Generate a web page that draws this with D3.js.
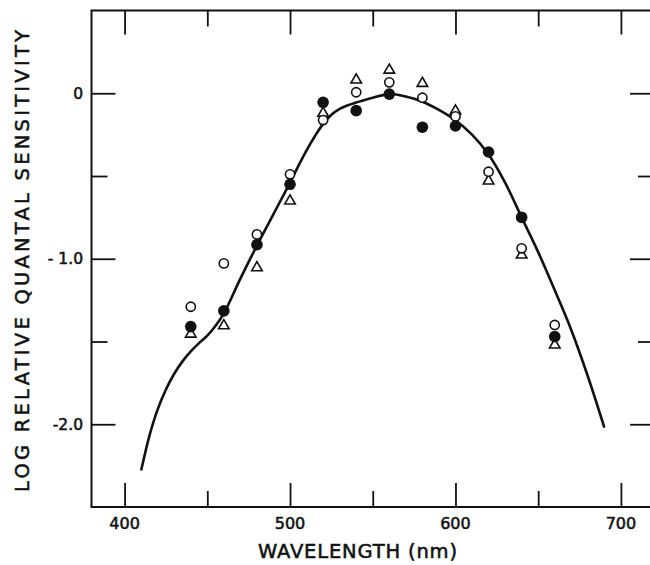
<!DOCTYPE html>
<html>
<head>
<meta charset="utf-8">
<script src="https://cdn.jsdelivr.net/npm/d3@7"></script>
<style>
  html, body { margin: 0; padding: 0; background: #fff; }
  svg { display: block; }
  text { font-family: "DejaVu Sans", sans-serif; fill: #111; stroke: #111; stroke-width: 0.55px; }
</style>
</head>
<body>
<svg id="chart" width="650" height="565"></svg>
<script>
// ---- data ----
const wavelengths = [440, 460, 480, 500, 520, 540, 560, 580, 600, 620, 640, 660];
const filledCircles = [-1.41, -1.315, -0.915, -0.55, -0.055, -0.105, -0.005, -0.205, -0.198, -0.355, -0.75, -1.47];
const openCircles = [-1.29, -1.028, -0.853, -0.49, -0.162, 0.006, 0.066, -0.027, -0.14, -0.474, -0.937, -1.40];
const openTriangles = [-1.455, -1.405, -1.054, -0.651, -0.121, 0.08, 0.14, 0.06, -0.107, -0.53, -0.977, -1.521];

const curveWavelengths = [410, 415, 420, 425, 430, 435, 440, 445, 450, 455, 460, 470, 480, 490, 500, 505, 510, 515, 520, 525, 530, 535, 540, 550, 560, 570, 580, 590, 600, 610, 620, 630, 640, 650, 660, 670, 680, 690];
const curveValues = [-2.28, -2.07, -1.91, -1.79, -1.695, -1.62, -1.56, -1.51, -1.465, -1.405, -1.33, -1.12, -0.92, -0.73, -0.54, -0.44, -0.345, -0.26, -0.185, -0.13, -0.094, -0.072, -0.056, -0.027, -0.005, -0.02, -0.051, -0.10, -0.163, -0.25, -0.37, -0.54, -0.75, -0.96, -1.19, -1.43, -1.71, -2.02];

const xMajorTicks = [400, 500, 600, 700];
const xMinorTicks = [450, 550, 650];
const xTickLabels = ["400", "500", "600", "700"];
const yMajorTicks = [0, -1, -2];
const yMinorTicks = [-0.5, -1.5];
const yTickLabels = ["0", "- 1.0", "-2.0"];
const xTitle = "WAVELENGTH (nm)";
const yTitle = "LOG RELATIVE QUANTAL SENSITIVITY";

// ---- layout ----
const svg = d3.select("#chart");
const x = d3.scaleLinear().domain([380, 720]).range([91.5, 654]);
const y = d3.scaleLinear().domain([-2.5, 0.5]).range([507, 10.5]);
const X0 = x(380), X1 = x(720), Y0 = y(-2.5), Y1 = y(0.5);
const major = 24, minor = 16;
const ink = "#111";

// frame
svg.append("rect")
  .attr("x", X0).attr("y", Y1)
  .attr("width", X1 - X0).attr("height", Y0 - Y1)
  .attr("fill", "none").attr("stroke", ink).attr("stroke-width", 2);

// axes with inward ticks
function tickAxis(gen, tx, ty, values, size) {
  const g = svg.append("g").attr("transform", `translate(${tx},${ty})`)
    .call(gen.tickValues(values).tickSize(size).tickFormat(""));
  g.select(".domain").remove();
  g.selectAll(".tick line").attr("stroke", ink).attr("stroke-width", 1.8);
  return g;
}
// bottom (ticks point up)
tickAxis(d3.axisTop(x), 0, Y0, xMajorTicks, major);
tickAxis(d3.axisTop(x), 0, Y0, xMinorTicks, minor);
// top (ticks point down)
tickAxis(d3.axisBottom(x), 0, Y1, xMajorTicks, major);
tickAxis(d3.axisBottom(x), 0, Y1, xMinorTicks, minor);
// left (ticks point right)
tickAxis(d3.axisRight(y), X0, 0, yMajorTicks, major);
tickAxis(d3.axisRight(y), X0, 0, yMinorTicks, minor);
// right (ticks point left)
tickAxis(d3.axisLeft(y), X1, 0, yMajorTicks, major);
tickAxis(d3.axisLeft(y), X1, 0, yMinorTicks, minor);

// tick labels
svg.append("g").selectAll("text").data(xMajorTicks).join("text")
  .attr("x", d => x(d)).attr("y", 529)
  .attr("text-anchor", "middle").attr("font-size", 16)
  .text((d, i) => xTickLabels[i]);
svg.append("g").selectAll("text").data(yMajorTicks).join("text")
  .attr("x", 83).attr("y", d => y(d) + 5.5)
  .attr("text-anchor", "end").attr("font-size", 15.5)
  .text((d, i) => yTickLabels[i]);

// axis titles
svg.append("text")
  .attr("x", 258).attr("y", 558)
  .attr("font-size", 19.5).attr("textLength", 199).attr("lengthAdjust", "spacing")
  .text(xTitle);
svg.append("text")
  .attr("transform", "translate(29,492) rotate(-90)")
  .attr("font-size", 19.5).attr("textLength", 462).attr("lengthAdjust", "spacing")
  .text(yTitle);

// curve
const curvePts = curveWavelengths.map((w, i) => [w, curveValues[i]]);
svg.append("path")
  .datum(curvePts)
  .attr("fill", "none").attr("stroke", ink).attr("stroke-width", 2.6)
  .attr("d", d3.line().x(d => x(d[0])).y(d => y(d[1])).curve(d3.curveCatmullRom.alpha(0.5)));

// points
const tri = d3.symbol().type(d3.symbolTriangle).size(48);
svg.append("g").selectAll("path").data(wavelengths).join("path")
  .attr("transform", (d, i) => `translate(${x(d)},${y(openTriangles[i])})`)
  .attr("d", tri).attr("fill", "#fff").attr("stroke", ink).attr("stroke-width", 1.6);
svg.append("g").selectAll("circle").data(wavelengths).join("circle")
  .attr("cx", d => x(d)).attr("cy", (d, i) => y(openCircles[i]))
  .attr("r", 4.6).attr("fill", "#fff").attr("stroke", ink).attr("stroke-width", 1.6);
svg.append("g").selectAll("circle").data(wavelengths).join("circle")
  .attr("cx", d => x(d)).attr("cy", (d, i) => y(filledCircles[i]))
  .attr("r", 5.8).attr("fill", ink);
</script>
</body>
</html>
